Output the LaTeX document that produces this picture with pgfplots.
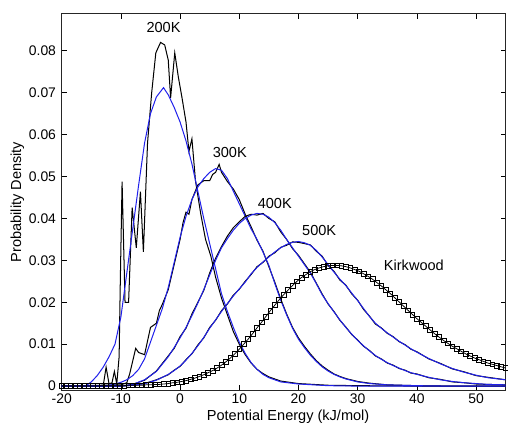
\documentclass[border=0pt]{standalone}
\usepackage{pgfplots}
\pgfplotsset{compat=1.18}
\usepackage{fontspec}
\setmainfont{Liberation Sans}
\definecolor{mblue}{rgb}{0.13,0.13,0.92}
\begin{document}
\begin{tikzpicture}
\begin{axis}[
  scale only axis, width=351pt, height=297.6pt,
  xmin=-20, xmax=55, ymin=-0.001, ymax=0.0888,
  scaled y ticks=false, scaled x ticks=false,
  xtick={-20,-10,0,10,20,30,40,50},
  xticklabels={-20,-10,0,10,20,30,40,50},
  ytick={0,0.01,0.02,0.03,0.04,0.05,0.06,0.07,0.08},
  yticklabels={0,0.01,0.02,0.03,0.04,0.05,0.06,0.07,0.08},
  tick align=inside, major tick length=4pt,
  tick style={black, line width=0.5pt},
  axis line style={line width=0.8pt, black!85},
  xlabel={Potential Energy (kJ/mol)}, ylabel={Probability Density},
  tick label style={font=\fontsize{11}{13}\selectfont},
  xticklabel style={yshift=1pt},
  yticklabel style={xshift=-1pt},
  every axis x label/.style={at={(axis description cs:0.51,-0.069)}, anchor=center, font=\fontsize{11.5}{13}\selectfont},
  every axis y label/.style={at={(axis description cs:-0.0997,0.5)}, anchor=center, rotate=90, font=\fontsize{11.5}{13}\selectfont},
  every axis plot/.append style={line width=0.8pt},
]
% 200K black
\addplot[black] table {
-20 0
-13 0
-12.5 0.0045
-12 0.0005
-11.5 0.0008
-11.1 0.0035
-10.7 0.0005
-10.3 0.007
-10.1 0.025
-9.8 0.0488
-9.3 0.020
-8.7 0.020
-8.1 0.0426
-7.4 0.033
-6.7 0.0464
-6.2 0.032
-5.5 0.058
-4.8 0.070
-4.1 0.0795
-3.3 0.082
-2.6 0.0814
-2.0 0.0778
-1.6 0.0688
-0.9 0.0795
-0.3 0.0738
0.3 0.069
1.0 0.063
1.5 0.056
2.0 0.059
2.6 0.049
3.5 0.041
4.3 0.035
5.2 0.031
6 0.026
7 0.021
8 0.017
9 0.013
10 0.010
11 0.0075
12 0.0055
13 0.004
14 0.003
15 0.0022
17 0.0012
20 0.0006
25 0.0002
30 0.0001
40 0
55 0
};
% 200K blue
\addplot[mblue] table {
-20 0
-16 0.0000
-15 0.0010
-14 0.0025
-13 0.0045
-12 0.0070
-11 0.0100
-10 0.0165
-9 0.0270
-8 0.0375
-7 0.0480
-6 0.0580
-5 0.0650
-4 0.0690
-2.8 0.0712
-2 0.0695
-1 0.0665
0 0.0630
1 0.0585
2 0.0530
3 0.0465
4 0.0400
5 0.0340
6 0.0280
7 0.0220
8 0.0178
9 0.0140
10 0.0105
11 0.0078
12 0.0056
13 0.0040
14 0.0028
15 0.0020
17 0.0010
20 0.0005
25 0.0001
30 0
55 0
};
% 300K black
\addplot[black] table {
-20 0
-10 0.0003
-9 0.0008
-8.5 0.0030
-7.5 0.0090
-7 0.0080
-6 0.0075
-5 0.0140
-4 0.0150
-3.5 0.0180
-3 0.0195
-2 0.0230
-1 0.0290
0 0.0350
0.5 0.0390
1 0.0415
1.5 0.0410
2 0.0445
3 0.0480
4 0.0490
5 0.0490
5.5 0.0505
6 0.0510
6.6 0.0529
7 0.0510
8 0.0488
9 0.0470
10 0.0445
11 0.0410
12 0.0380
13 0.0348
14 0.0322
15 0.0285
16 0.0248
17 0.0208
18 0.0172
19 0.0140
20 0.0115
21 0.0095
22 0.0077
23 0.0061
24 0.0048
25 0.0038
26 0.0029
27 0.0023
28 0.0018
30 0.0011
32 0.0007
35 0.0003
40 0.0001
45 0
55 0
};
% 300K blue
\addplot[mblue] table {
-20 0
-13 0
-12 0.0002
-11 0.0005
-10 0.0009
-9 0.0015
-8 0.0025
-7 0.0040
-6 0.0065
-5 0.0105
-4 0.0145
-3 0.0185
-2 0.0235
-1 0.0295
0 0.0355
1 0.0405
2 0.0445
3 0.0475
4 0.0495
5 0.0510
6 0.0519
7 0.0515
8 0.0495
9 0.0465
10 0.0435
11 0.0405
12 0.0375
13 0.0350
14 0.0320
15 0.0288
16 0.0245
17 0.0205
18 0.0170
19 0.0138
20 0.0112
21 0.0092
22 0.0074
23 0.0059
24 0.0046
25 0.0036
26 0.0028
27 0.0022
28 0.0017
30 0.0010
32 0.0006
35 0.0003
40 0.0001
45 0
55 0
};
% 400K black
\addplot[black] table {
-20 0
-10 0
-8 0.0004
-6 0.0014
-4 0.0036
-2 0.0072
-1 0.0090
0 0.0118
1 0.0138
2 0.0172
3 0.0200
4 0.0228
5 0.0270
6 0.0305
7 0.0333
8 0.0358
9 0.0378
10 0.0392
11 0.0405
12 0.0410
13 0.0408
14 0.0412
15 0.0400
16 0.0392
17 0.0368
18 0.0350
19 0.0328
20 0.0312
21 0.0292
22 0.0272
23 0.0246
24 0.0220
25 0.0196
26 0.0178
27 0.0157
28 0.0141
29 0.0123
30 0.0110
31 0.0095
32 0.0085
33 0.0072
34 0.0065
35 0.0055
36 0.0050
37 0.0042
38 0.0038
39 0.0031
40 0.0029
42 0.0020
44 0.0016
46 0.0010
48 0.0008
50 0.0005
52 0.0004
55 0.0003
};
% 400K blue
\addplot[mblue] table {
-20 0
-10 0
-8 0.0004
-6 0.0015
-4 0.0035
-2 0.0070
-1 0.0092
0 0.0115
1 0.0140
2 0.0168
3 0.0198
4 0.0230
5 0.0265
6 0.0300
7 0.0330
8 0.0352
9 0.0372
10 0.0388
11 0.0400
12 0.0408
13 0.0412
14 0.0410
15 0.0403
16 0.0390
17 0.0372
18 0.0350
19 0.0330
20 0.0310
21 0.0290
22 0.0270
23 0.0245
24 0.0218
25 0.0197
26 0.0177
27 0.0158
28 0.0140
29 0.0124
30 0.0109
31 0.0096
32 0.0084
33 0.0073
34 0.0064
35 0.0056
36 0.0049
37 0.0043
38 0.0037
39 0.0032
40 0.0028
42 0.0021
44 0.0015
46 0.0011
48 0.0008
50 0.0006
52 0.0004
55 0.0003
};
% 500K black
\addplot[black] table {
-20 0
-10 0
-8 0.0002
-6 0.0006
-4 0.0015
-2 0.0027
-1 0.0038
0 0.0047
1 0.0063
2 0.0077
3 0.0098
4 0.0115
5 0.0140
6 0.0157
7 0.0180
8 0.0196
9 0.0217
10 0.0231
11 0.0250
12 0.0266
13 0.0285
14 0.0295
15 0.0310
16 0.0318
17 0.0331
18 0.0336
19 0.0344
20 0.0343
21 0.0340
22 0.0337
23 0.0322
24 0.0310
25 0.0288
26 0.0274
27 0.0253
28 0.0241
29 0.0220
30 0.0205
31 0.0183
32 0.0167
33 0.0148
34 0.0139
35 0.0126
36 0.0118
37 0.0106
38 0.0099
39 0.0088
40 0.0082
42 0.0065
44 0.0054
46 0.0041
48 0.0034
50 0.0025
52 0.0021
55 0.0015
};
% 500K blue
\addplot[mblue] table {
-20 0
-10 0
-8 0.0002
-6 0.0006
-4 0.0014
-2 0.0028
-1 0.0037
0 0.0048
1 0.0062
2 0.0078
3 0.0096
4 0.0116
5 0.0138
6 0.0158
7 0.0178
8 0.0197
9 0.0215
10 0.0232
11 0.0248
12 0.0268
13 0.0283
14 0.0296
15 0.0308
16 0.0320
17 0.0330
18 0.0338
19 0.0343
20 0.0345
21 0.0342
22 0.0336
23 0.0324
24 0.0308
25 0.0290
26 0.0272
27 0.0255
28 0.0240
29 0.0222
30 0.0204
31 0.0185
32 0.0166
33 0.0150
34 0.0138
35 0.0127
36 0.0117
37 0.0107
38 0.0098
39 0.0089
40 0.0081
42 0.0066
44 0.0053
46 0.0042
48 0.0033
50 0.0026
52 0.0020
55 0.0015
};
% Kirkwood
\addplot[black, line width=0.6pt, mark=square, mark size=1.9pt, mark options={line width=0.5pt}] table {
-20 0.0000
-19.25 0.0000
-18.5 0.0000
-17.75 0.0000
-17 0.0000
-16.25 0.0000
-15.5 0.0000
-14.75 0.0000
-14 0.0000
-13.25 0.0001
-12.5 0.0001
-11.75 0.0001
-11 0.0001
-10.25 0.0001
-9.5 0.0001
-8.75 0.0002
-8 0.0002
-7.25 0.0002
-6.5 0.0002
-5.75 0.0003
-5 0.0003
-4.25 0.0004
-3.5 0.0004
-2.75 0.0005
-2 0.0006
-1.25 0.0008
-0.5 0.0009
0.25 0.0011
1 0.0013
1.75 0.0016
2.5 0.0019
3.25 0.0023
4 0.0027
4.75 0.0032
5.5 0.0037
6.25 0.0043
7 0.0050
7.75 0.0058
8.5 0.0067
9.25 0.0077
10 0.0088
10.75 0.0100
11.5 0.0112
12.25 0.0125
13 0.0139
13.75 0.0152
14.5 0.0166
15.25 0.0180
16 0.0193
16.75 0.0206
17.5 0.0218
18.25 0.0229
19 0.0240
19.75 0.0250
20.5 0.0259
21.25 0.0266
22 0.0273
22.75 0.0278
23.5 0.0282
24.25 0.0285
25 0.0287
25.75 0.0288
26.5 0.0288
27.25 0.0287
28 0.0285
28.75 0.0282
29.5 0.0278
30.25 0.0274
31 0.0268
31.75 0.0262
32.5 0.0255
33.25 0.0247
34 0.0239
34.75 0.0230
35.5 0.0221
36.25 0.0211
37 0.0201
37.75 0.0191
38.5 0.0181
39.25 0.0171
40 0.0161
40.75 0.0152
41.5 0.0143
42.25 0.0134
43 0.0125
43.75 0.0117
44.5 0.0109
45.25 0.0102
46 0.0095
46.75 0.0089
47.5 0.0083
48.25 0.0077
49 0.0072
49.75 0.0067
50.5 0.0063
51.25 0.0059
52 0.0055
52.75 0.0052
53.5 0.0049
54.25 0.0046
55 0.0043
};
\node[font=\fontsize{11.5}{13}\selectfont] at (axis cs:-2.8,0.0855) {200K};
\node[font=\fontsize{11.5}{13}\selectfont] at (axis cs:8.4,0.0557) {300K};
\node[font=\fontsize{11.5}{13}\selectfont] at (axis cs:16,0.0436) {400K};
\node[font=\fontsize{11.5}{13}\selectfont] at (axis cs:23.5,0.0371) {500K};
\node[font=\fontsize{11.5}{13}\selectfont] at (axis cs:39.5,0.0288) {Kirkwood};
\end{axis}
\path ([yshift=11pt]current axis.north);
\path ([yshift=-29pt]current axis.south);
\path ([xshift=-48.8pt]current axis.west);
\end{tikzpicture}
\end{document}
